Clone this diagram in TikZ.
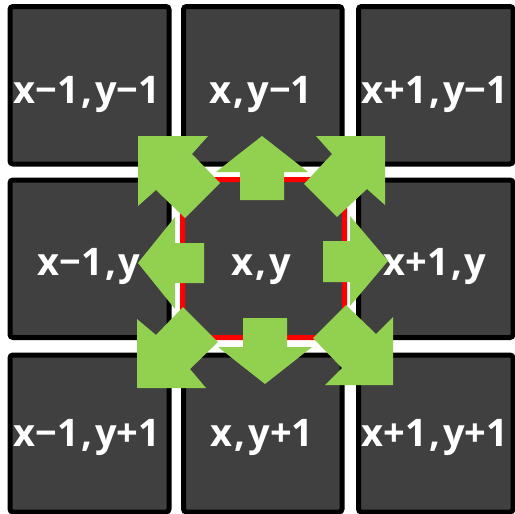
\documentclass[tikz,border=0pt]{standalone}
\usepackage{fontspec}
\setmainfont{Open Sans}
\definecolor{cellgray}{HTML}{404040}
\definecolor{arrowgreen}{HTML}{92D050}
\definecolor{centerred}{HTML}{FF0000}
\newcommand{\cm}{\kern2.5pt,\kern2.5pt}
\begin{document}
\begin{tikzpicture}[x=1pt,y=-1pt,
  cell/.style={rectangle, draw=black, line width=5pt, fill=cellgray, rounded corners=3pt, inner sep=0pt},
  centercell/.style={cell, draw=centerred, rounded corners=1pt},
  lab/.style={text=white, font=\fontsize{38}{46}\selectfont\bfseries, anchor=base, inner sep=0pt},
  arrowfill/.style={fill=arrowgreen}]
\useasboundingbox[fill=white] (0,0) rectangle (515,514);
% cells
\node[cell, minimum width=159pt, minimum height=157.5pt] (c00) at (89.5,85.25) {};
\node[cell, minimum width=158.5pt, minimum height=157.5pt] (c10) at (262.75,85.25) {};
\node[cell, minimum width=154.5pt, minimum height=157.5pt] (c20) at (435.75,85.25) {};
\node[cell, minimum width=159pt, minimum height=157.5pt] (c01) at (89.5,258.75) {};
\node[centercell, minimum width=162pt, minimum height=158pt] (c11) at (263.5,258.5) {};
\node[cell, minimum width=154.5pt, minimum height=157.5pt] (c21) at (435.75,258.75) {};
\node[cell, minimum width=159pt, minimum height=157pt] (c02) at (89.5,433.5) {};
\node[cell, minimum width=158.5pt, minimum height=157pt] (c12) at (262.75,433.5) {};
\node[cell, minimum width=154.5pt, minimum height=157pt] (c22) at (435.75,433.5) {};
% labels
\node[lab] (t00) at (87,103) {x−1\cm y−1};
\node[lab] (t10) at (261,103) {x\cm y−1};
\node[lab] (t20) at (435,103) {x+1\cm y−1};
\node[lab] (t01) at (89,275) {x−1\cm y};
\node[lab] (t11) at (261,275) {x\cm y};
\node[lab] (t21) at (435,275) {x+1\cm y};
\node[lab] (t02) at (87,446) {x−1\cm y+1};
\node[lab] (t12) at (262,446) {x\cm y+1};
\node[lab] (t22) at (435,446) {x+1\cm y+1};
% straight arrows
\fill[arrowfill] (262,136) -- (308,172) -- (284,172) -- (284,200) -- (240,200) -- (240,172) -- (216,172) -- cycle;
\fill[arrowfill] (265,384) -- (312,347) -- (287,347) -- (287,318) -- (243,318) -- (243,347) -- (218,347) -- cycle;
\fill[arrowfill] (138,263) -- (175,217) -- (175,243) -- (204,243) -- (204,283) -- (175,283) -- (175,309) -- cycle;
\fill[arrowfill] (388,261) -- (350,216) -- (350,241) -- (323,241) -- (323,282) -- (350,282) -- (350,306) -- cycle;
% diagonal arrows
\begin{scope}[shift={(138,136)}]
\fill[arrowfill] (0,0) -- (70,0) -- (54,18) -- (82,47) -- (47,82) -- (18,54) -- (0,70) -- cycle;
\end{scope}
\begin{scope}[shift={(385,136)}, xscale=-1]
\fill[arrowfill] (0,0) -- (69,0) -- (53,18) -- (81,48) -- (48,81) -- (18,53) -- (0,69) -- cycle;
\end{scope}
\begin{scope}[shift={(137,388)}, yscale=-1]
\fill[arrowfill] (0,0) -- (69,0) -- (53,19) -- (81,46) -- (46,81) -- (19,53) -- (0,69) -- cycle;
\end{scope}
\begin{scope}[shift={(393,385)}, xscale=-1, yscale=-1]
\fill[arrowfill] (0,0) -- (68,0) -- (51,17) -- (80,47) -- (47,80) -- (17,51) -- (0,68) -- cycle;
\end{scope}
\end{tikzpicture}
\end{document}
